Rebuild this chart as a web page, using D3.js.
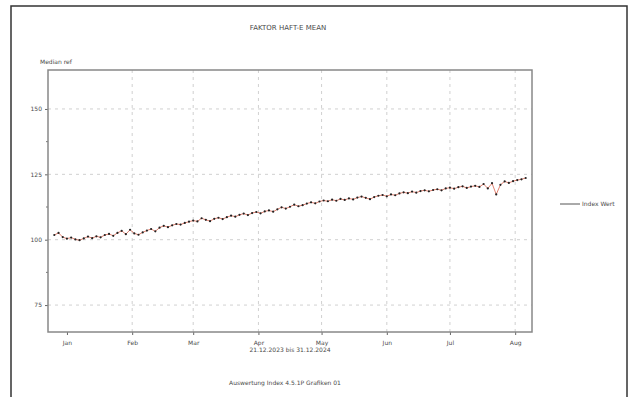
<!DOCTYPE html>
<html>
<head>
<meta charset="utf-8">
<script src="https://cdn.jsdelivr.net/npm/d3@7/dist/d3.min.js"></script>
<style>
  body { margin: 0; background: #fff; }
  text { font-family: "DejaVu Sans", sans-serif; fill: #4a4a4a; }
</style>
</head>
<body>
<div id="chart"></div>
<script>
// data (one value every 2 days)
const startDate = new Date(2023, 11, 26);
const stepDays = 2;
const values = [
  101.8, 102.6, 101.0, 100.4, 100.8, 100.1, 99.8, 100.5, 101.2, 100.6,
  101.3, 100.9, 101.8, 102.2, 101.5, 102.6, 103.4, 102.1, 103.8, 102.4,
  101.9, 102.8, 103.5, 104.1, 103.2, 104.6, 105.3, 104.8, 105.5, 106.0,
  105.8, 106.4, 106.9, 107.3, 107.0, 108.2, 107.6, 107.1, 108.0, 108.4,
  107.9, 108.6, 109.2, 108.8, 109.5, 110.0, 109.4, 110.2, 110.6, 110.1,
  110.8, 111.2, 110.7, 111.6, 112.4, 111.9, 112.6, 113.4, 112.8, 113.2,
  113.8, 114.3, 113.9, 114.6, 115.0, 114.7, 115.3, 114.9, 115.6, 115.2,
  115.8, 115.4, 116.1, 116.5, 116.0, 115.5, 116.3, 116.8, 117.1, 116.6,
  117.3, 117.0, 117.7, 118.1, 117.8, 118.4, 118.0, 118.6, 118.9, 118.5,
  119.0, 119.3, 118.9, 119.6, 119.9, 119.5, 120.1, 120.4, 119.8, 120.3,
  120.6, 120.2, 121.3, 119.6, 121.6, 117.3, 121.0, 122.3, 121.7, 122.4,
  122.8, 123.1, 123.6
];
const yTicks = [75, 100, 125, 150];
const yMinorTicks = [87.5, 112.5, 137.5];
const xTickDates = [
  new Date(2024, 0, 1), new Date(2024, 1, 1), new Date(2024, 2, 1), new Date(2024, 3, 1),
  new Date(2024, 4, 1), new Date(2024, 5, 1), new Date(2024, 6, 1), new Date(2024, 7, 1)
];
const xTickLabels = ['Jan', 'Feb', 'Mar', 'Apr', 'May', 'Jun', 'Jul', 'Aug'];
const titleText = 'FAKTOR HAFT-E MEAN';
const yLabelText = 'Median  ref';
const xLabelText = '21.12.2023 bis 31.12.2024';
const footerText = 'Auswertung Index 4.5.1P Grafiken 01';
const legendText = 'Index  Wert';

const width = 631, height = 397;
const plot = { left: 48, top: 70, right: 532, bottom: 332 };

const data = values.map((v, i) => ({ date: d3.timeDay.offset(startDate, i * stepDays), value: v }));

const svg = d3.select('#chart').append('svg')
  .attr('width', width)
  .attr('height', height);

// outer frame
svg.append('rect')
  .attr('x', 11).attr('y', 6)
  .attr('width', 616).attr('height', 400)
  .attr('fill', 'none')
  .attr('stroke', '#333')
  .attr('stroke-width', 1.5);

const x = d3.scaleTime()
  .domain([new Date(2023, 11, 23), new Date(2024, 7, 9)])
  .range([plot.left, plot.right]);

const y = d3.scaleLinear()
  .domain([64.7, 164.9])
  .range([plot.bottom, plot.top]);

// grid
svg.append('g').selectAll('line')
  .data(yTicks)
  .enter().append('line')
  .attr('x1', plot.left).attr('x2', plot.right)
  .attr('y1', d => y(d)).attr('y2', d => y(d))
  .attr('stroke', '#c4c4c4')
  .attr('stroke-dasharray', '3,4')
  .attr('stroke-width', 0.8);

svg.append('g').selectAll('line')
  .data(xTickDates.slice(1))
  .enter().append('line')
  .attr('x1', d => x(d)).attr('x2', d => x(d))
  .attr('y1', plot.top).attr('y2', plot.bottom)
  .attr('stroke', '#c4c4c4')
  .attr('stroke-dasharray', '3,4')
  .attr('stroke-width', 0.8);

// axes
const yAxis = d3.axisLeft(y).tickValues(yTicks).tickSize(3).tickFormat(d3.format('d'));
const gy = svg.append('g')
  .attr('transform', `translate(${plot.left},0)`)
  .call(yAxis);
gy.select('.domain').remove();
gy.selectAll('.tick line').attr('stroke', '#666');
gy.selectAll('.tick text').style('font-size', '6px').attr('fill', '#4a4a4a');

svg.append('g').selectAll('line')
  .data(yMinorTicks)
  .enter().append('line')
  .attr('x1', plot.left - 2).attr('x2', plot.left)
  .attr('y1', d => y(d)).attr('y2', d => y(d))
  .attr('stroke', '#777');

const xAxis = d3.axisBottom(x).tickValues(xTickDates).tickSize(3)
  .tickFormat((d, i) => xTickLabels[i]);
const gx = svg.append('g')
  .attr('transform', `translate(0,${plot.bottom})`)
  .call(xAxis);
gx.select('.domain').remove();
gx.selectAll('.tick line').attr('stroke', '#666');
gx.selectAll('.tick text').style('font-size', '6px').attr('fill', '#4a4a4a').attr('dy', '1.2em');

// plot frame
svg.append('rect')
  .attr('x', plot.left).attr('y', plot.top)
  .attr('width', plot.right - plot.left).attr('height', plot.bottom - plot.top)
  .attr('fill', 'none')
  .attr('stroke', '#888')
  .attr('stroke-width', 1.5);

// series
const line = d3.line()
  .x(d => x(d.date))
  .y(d => y(d.value));

svg.append('path')
  .datum(data)
  .attr('fill', 'none')
  .attr('stroke', '#d9604a')
  .attr('stroke-width', 0.8)
  .attr('d', line);

svg.append('g').selectAll('circle')
  .data(data)
  .enter().append('circle')
  .attr('cx', d => x(d.date))
  .attr('cy', d => y(d.value))
  .attr('r', 1.1)
  .attr('fill', '#222');

// texts
svg.append('text')
  .attr('x', 288).attr('y', 30)
  .attr('text-anchor', 'middle')
  .style('font-size', '7px')
  .text(titleText);

svg.append('text')
  .attr('x', 40).attr('y', 64)
  .style('font-size', '6px')
  .text(yLabelText);

svg.append('text')
  .attr('x', 290).attr('y', 352)
  .attr('text-anchor', 'middle')
  .style('font-size', '6px')
  .text(xLabelText);

svg.append('text')
  .attr('x', 285).attr('y', 385)
  .attr('text-anchor', 'middle')
  .style('font-size', '6px')
  .text(footerText);

// legend
const legend = svg.append('g').attr('transform', 'translate(560,204)');
legend.append('line')
  .attr('x1', 0).attr('x2', 20).attr('y1', 0).attr('y2', 0)
  .attr('stroke', '#555').attr('stroke-width', 1);
legend.append('text')
  .attr('x', 22).attr('y', 2)
  .style('font-size', '6px')
  .text(legendText);
</script>
</body>
</html>
